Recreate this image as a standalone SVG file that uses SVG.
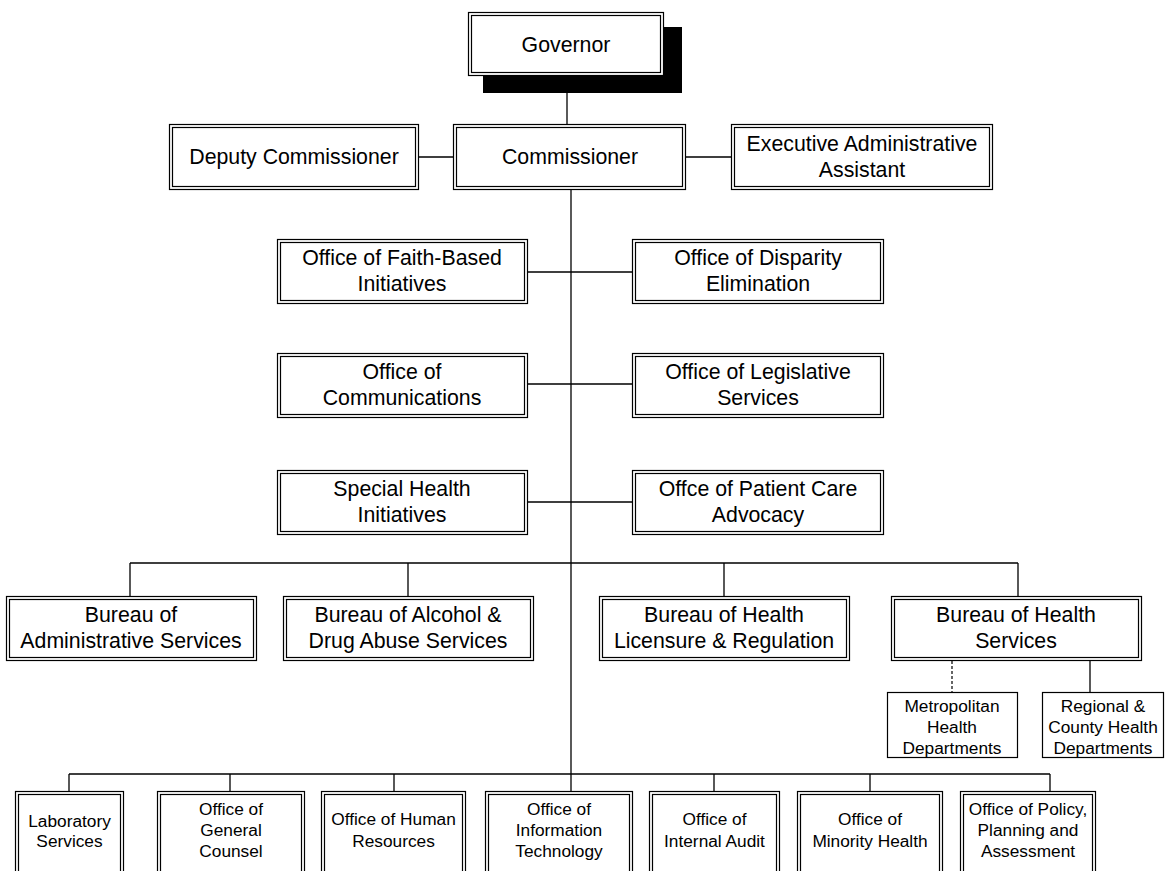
<svg xmlns="http://www.w3.org/2000/svg" width="1170" height="871" viewBox="0 0 1170 871">
<style>
.o{fill:#fff;stroke:#000;stroke-width:1.2}
.i{fill:none;stroke:#000;stroke-width:1.2}
.s{fill:#fff;stroke:#000;stroke-width:1.2}
.c{fill:none;stroke:#000;stroke-width:1.3}
.d{fill:none;stroke:#000;stroke-width:1.2;stroke-dasharray:3 2}
text{font-family:"Liberation Sans",Arial,sans-serif;fill:#000;text-anchor:middle}
.t{font-size:21.3px}
.m{font-size:17.3px}
</style>
<rect width="1170" height="871" fill="#fff"/>
<g id="connectors">
<path class="c" d="M567 76V124"/>
<path class="c" d="M419 157H453M686 157H731"/>
<path class="c" d="M571 190V792"/>
<path class="c" d="M528 272H632M528 384H632M528 502H632"/>
<path class="c" d="M130 563H1018M130 563V596M408 563V596M724 563V596M1018 563V596"/>
<path class="d" d="M952 661V692"/>
<path class="c" d="M1090 661V694"/>
<path class="c" d="M69 774H1050M69 774V791M230 774V791M394 774V791M714 774V791M870 774V791M1050 774V791"/>
</g>
<g id="governor">
<rect x="483" y="27" width="199" height="66" fill="#000"/>
<rect class="o" x="468.5" y="12.5" width="195" height="63"/>
<rect class="i" x="471.5" y="15.5" width="189" height="57"/>
<text class="t" x="566" y="52">Governor</text>
</g>
<g id="deputy">
<rect class="o" x="169.5" y="124.5" width="249" height="65"/>
<rect class="i" x="172.5" y="127.5" width="243" height="59"/>
<text class="t" x="294" y="164">Deputy Commissioner</text>
</g>
<g id="commissioner">
<rect class="o" x="453.5" y="124.5" width="232" height="65"/>
<rect class="i" x="456.5" y="127.5" width="226" height="59"/>
<text class="t" x="570" y="164">Commissioner</text>
</g>
<g id="exec">
<rect class="o" x="731.5" y="124.5" width="261" height="65"/>
<rect class="i" x="734.5" y="127.5" width="255" height="59"/>
<text class="t" x="862" y="151">Executive Administrative</text>
<text class="t" x="862" y="177">Assistant</text>
</g>
<g id="faith">
<rect class="o" x="277.5" y="239.5" width="250" height="64"/>
<rect class="i" x="280.5" y="242.5" width="244" height="58"/>
<text class="t" x="402" y="265">Office of Faith-Based</text>
<text class="t" x="402" y="291">Initiatives</text>
</g>
<g id="disparity">
<rect class="o" x="632.5" y="239.5" width="251" height="64"/>
<rect class="i" x="635.5" y="242.5" width="245" height="58"/>
<text class="t" x="758" y="265">Office of Disparity</text>
<text class="t" x="758" y="291">Elimination</text>
</g>
<g id="communications">
<rect class="o" x="277.5" y="353.5" width="250" height="64"/>
<rect class="i" x="280.5" y="356.5" width="244" height="58"/>
<text class="t" x="402" y="379">Office of</text>
<text class="t" x="402" y="405">Communications</text>
</g>
<g id="legislative">
<rect class="o" x="632.5" y="353.5" width="251" height="64"/>
<rect class="i" x="635.5" y="356.5" width="245" height="58"/>
<text class="t" x="758" y="379">Office of Legislative</text>
<text class="t" x="758" y="405">Services</text>
</g>
<g id="special">
<rect class="o" x="277.5" y="470.5" width="250" height="64"/>
<rect class="i" x="280.5" y="473.5" width="244" height="58"/>
<text class="t" x="402" y="496">Special Health</text>
<text class="t" x="402" y="522">Initiatives</text>
</g>
<g id="patient">
<rect class="o" x="632.5" y="470.5" width="251" height="64"/>
<rect class="i" x="635.5" y="473.5" width="245" height="58"/>
<text class="t" x="758" y="496">Offce of Patient Care</text>
<text class="t" x="758" y="522">Advocacy</text>
</g>
<g id="bureau-admin">
<rect class="o" x="6.5" y="596.5" width="250" height="64"/>
<rect class="i" x="9.5" y="599.5" width="244" height="58"/>
<text class="t" x="131" y="622">Bureau of</text>
<text class="t" x="131" y="648">Administrative Services</text>
</g>
<g id="bureau-alcohol">
<rect class="o" x="283.5" y="596.5" width="250" height="64"/>
<rect class="i" x="286.5" y="599.5" width="244" height="58"/>
<text class="t" x="408" y="622">Bureau of Alcohol &amp;</text>
<text class="t" x="408" y="648">Drug Abuse Services</text>
</g>
<g id="bureau-licensure">
<rect class="o" x="599.5" y="596.5" width="250" height="64"/>
<rect class="i" x="602.5" y="599.5" width="244" height="58"/>
<text class="t" x="724" y="622">Bureau of Health</text>
<text class="t" x="724" y="648">Licensure &amp; Regulation</text>
</g>
<g id="bureau-health">
<rect class="o" x="891.5" y="596.5" width="250" height="64"/>
<rect class="i" x="894.5" y="599.5" width="244" height="58"/>
<text class="t" x="1016" y="622">Bureau of Health</text>
<text class="t" x="1016" y="648">Services</text>
</g>
<g id="metro">
<rect class="s" x="887.5" y="692.5" width="130" height="65"/>
<text class="m" x="952" y="712">Metropolitan</text>
<text class="m" x="952" y="733">Health</text>
<text class="m" x="952" y="754">Departments</text>
</g>
<g id="regional">
<rect class="s" x="1042.5" y="692.5" width="121" height="65"/>
<text class="m" x="1103" y="712">Regional &amp;</text>
<text class="m" x="1103" y="733">County Health</text>
<text class="m" x="1103" y="754">Departments</text>
</g>
<g id="lab">
<rect class="o" x="15.5" y="791.5" width="108" height="82"/>
<rect class="i" x="18.5" y="794.5" width="102" height="82"/>
<text class="m" x="69.5" y="827">Laboratory</text>
<text class="m" x="69.5" y="847">Services</text>
</g>
<g id="counsel">
<rect class="o" x="157.5" y="791.5" width="147" height="82"/>
<rect class="i" x="160.5" y="794.5" width="141" height="82"/>
<text class="m" x="231" y="815">Office of</text>
<text class="m" x="231" y="836">General</text>
<text class="m" x="231" y="857">Counsel</text>
</g>
<g id="hr">
<rect class="o" x="321.5" y="791.5" width="144" height="82"/>
<rect class="i" x="324.5" y="794.5" width="138" height="82"/>
<text class="m" x="393.5" y="825">Office of Human</text>
<text class="m" x="393.5" y="847">Resources</text>
</g>
<g id="it">
<rect class="o" x="485.5" y="791.5" width="147" height="82"/>
<rect class="i" x="488.5" y="794.5" width="141" height="82"/>
<text class="m" x="559" y="815">Office of</text>
<text class="m" x="559" y="836">Information</text>
<text class="m" x="559" y="857">Technology</text>
</g>
<g id="audit">
<rect class="o" x="649.5" y="791.5" width="130" height="82"/>
<rect class="i" x="652.5" y="794.5" width="124" height="82"/>
<text class="m" x="714.5" y="825">Office of</text>
<text class="m" x="714.5" y="847">Internal Audit</text>
</g>
<g id="minority">
<rect class="o" x="797.5" y="791.5" width="145" height="82"/>
<rect class="i" x="800.5" y="794.5" width="139" height="82"/>
<text class="m" x="870" y="825">Office of</text>
<text class="m" x="870" y="847">Minority Health</text>
</g>
<g id="policy">
<rect class="o" x="960.5" y="791.5" width="135" height="82"/>
<rect class="i" x="963.5" y="794.5" width="129" height="82"/>
<text class="m" x="1028" y="815">Office of Policy,</text>
<text class="m" x="1028" y="836">Planning and</text>
<text class="m" x="1028" y="857">Assessment</text>
</g>
</svg>
